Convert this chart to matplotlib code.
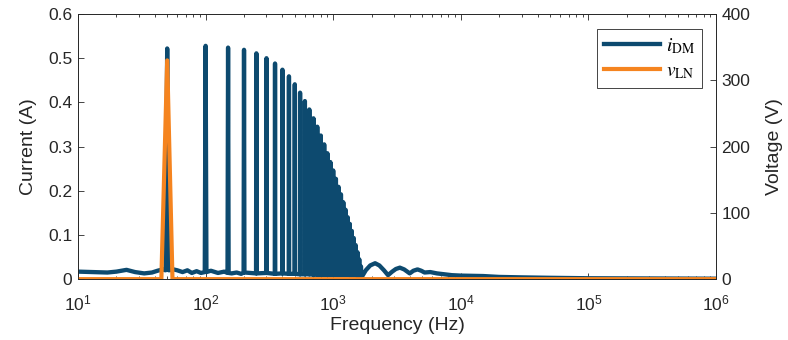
import numpy as np
import matplotlib.pyplot as plt
from matplotlib.ticker import LogLocator, FixedLocator

plt.rcParams['font.family'] = ['Liberation Sans', 'DejaVu Sans']
plt.rcParams['mathtext.fontset'] = 'stix'

# harmonic spikes of i_DM (multiples of 50 Hz), peak current in A
harm_f = np.arange(50, 1651, 50)
harm_amp = [0.522, 0.528, 0.524, 0.519, 0.511, 0.500, 0.488, 0.474, 0.459, 0.441,
            0.422, 0.403, 0.384, 0.364, 0.345, 0.325, 0.305, 0.285, 0.265, 0.246,
            0.227, 0.209, 0.192, 0.174, 0.157, 0.140, 0.125, 0.109, 0.093, 0.077,
            0.061, 0.045, 0.029]
harm_floor = [0.020, 0.016, 0.014, 0.015, 0.013, 0.014, 0.012, 0.013, 0.012, 0.012,
              0.011, 0.011, 0.011, 0.010, 0.010, 0.010, 0.010, 0.010, 0.010, 0.010,
              0.010, 0.010, 0.010, 0.010, 0.010, 0.010, 0.009, 0.009, 0.009, 0.009,
              0.008, 0.008, 0.008]

# background between / outside the harmonics
bg_f = [10, 13, 17, 20, 24, 28, 33, 38, 42, 46,
        56, 60, 66, 72, 78, 85, 92,
        110, 125, 140, 160, 175, 190,
        1700, 1800, 1950, 2130, 2300, 2500, 2690, 2900, 3100, 3330, 3600, 3980,
        4250, 4580, 4900, 5200, 5770, 6500, 7500, 8500, 1e4, 1.5e4, 2e4, 3e4,
        5e4, 1e5, 3e5, 1e6]
bg_amp = [0.017, 0.016, 0.015, 0.017, 0.021, 0.016, 0.013, 0.015, 0.019, 0.022,
          0.022, 0.020, 0.016, 0.020, 0.014, 0.018, 0.014,
          0.019, 0.014, 0.017, 0.013, 0.015, 0.012,
          0.008, 0.020, 0.031, 0.036, 0.031, 0.020, 0.009, 0.017, 0.023, 0.026, 0.022, 0.013,
          0.019, 0.022, 0.019, 0.015, 0.016, 0.013, 0.011, 0.009, 0.008, 0.007, 0.005, 0.004,
          0.003, 0.002, 0.0015, 0.001]

# line-to-neutral voltage, V
v_f = [10, 45, 50, 55, 1e6]
v_ln = [0, 0, 330, 0, 0]

cur_ticks = [0, 0.1, 0.2, 0.3, 0.4, 0.5, 0.6]
cur_labels = ['0', '0.1', '0.2', '0.3', '0.4', '0.5', '0.6']
volt_ticks = [0, 100, 200, 300, 400]

pts = list(zip(bg_f, bg_amp))
for f, a, b in zip(harm_f, harm_amp, harm_floor):
    pts += [(f - 1.5, b), (f, a), (f + 1.5, b)]
pts.sort()
i_f = np.array([p[0] for p in pts])
i_dm = np.array([p[1] for p in pts])

blue = '#0d4a6f'
orange = '#f5841f'
tc = '#262626'

fig = plt.figure(figsize=(7.88, 3.4), dpi=100)
ax = fig.add_axes([0.099, 0.179, 0.8096, 0.7798])
ax2 = ax.twinx()

l1, = ax.plot(i_f, i_dm, color=blue, lw=3.1, solid_joinstyle='round')
l2, = ax2.plot(v_f, v_ln, color=orange, lw=3.0, solid_joinstyle='round')

ax.set_xscale('log')
ax.set_xlim(10, 1e6)
ax.set_ylim(0, 0.6)
ax2.set_ylim(0, 400)
ax.yaxis.set_major_locator(FixedLocator(cur_ticks))
ax.set_yticklabels(cur_labels)
ax2.yaxis.set_major_locator(FixedLocator(volt_ticks))
ax.xaxis.set_major_locator(LogLocator(10))
ax.xaxis.set_minor_locator(LogLocator(10, subs=np.arange(2, 10)))

for a in (ax, ax2):
    a.tick_params(which='both', direction='in', colors=tc, labelsize=12.5, width=0.6)
    a.tick_params(which='major', length=4, pad=4)
    a.tick_params(which='minor', length=2)
    for s in a.spines.values():
        s.set_color(tc)
        s.set_linewidth(0.6)
ax.tick_params(axis='x', which='both', top=True, pad=10)
ax.tick_params(axis='y', right=False)

ax.set_xlabel('Frequency (Hz)', fontsize=14, color=tc, labelpad=3)
ax.set_ylabel('Current (A)', fontsize=14, color=tc, labelpad=8)
ax2.set_ylabel('Voltage (V)', fontsize=14, color=tc, labelpad=11)

leg = ax2.legend([l1, l2], [r'$i_{\mathrm{DM}}$', r'$v_{\mathrm{LN}}$'],
                 loc='upper right', bbox_to_anchor=(0.978, 0.943), borderaxespad=0,
                 fancybox=False, edgecolor=tc, framealpha=1, fontsize=14,
                 handlelength=2.9, borderpad=0.35, labelspacing=0.35,
                 handletextpad=0.3)
leg.get_frame().set_linewidth(0.6)

fig.savefig('out.png', dpi=100)
